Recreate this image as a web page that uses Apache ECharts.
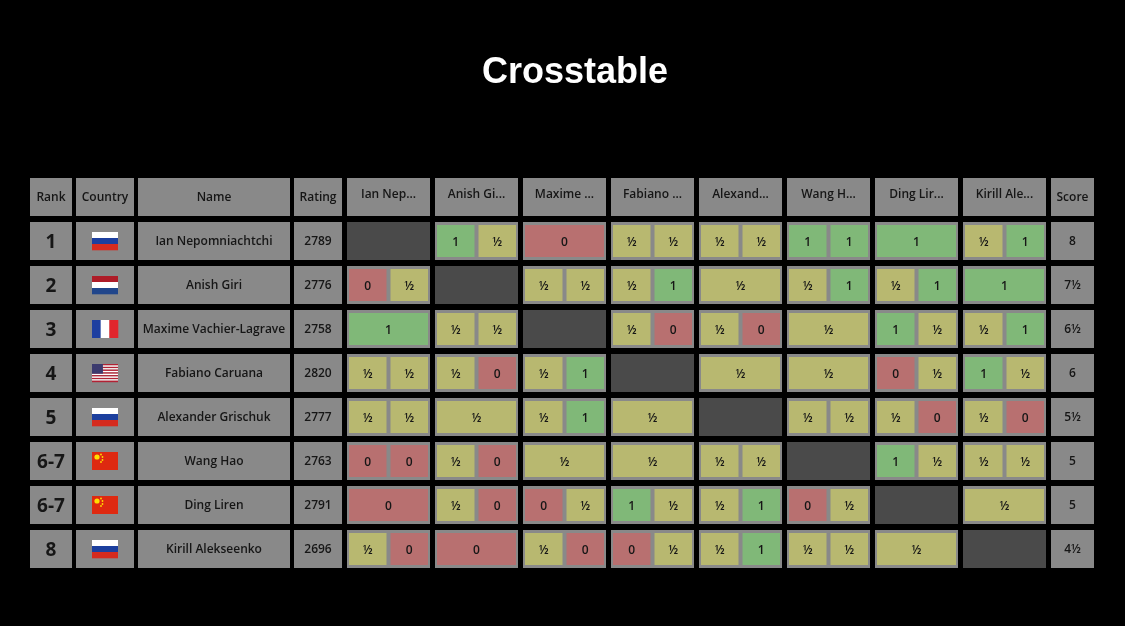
<!DOCTYPE html>
<html><head><meta charset="utf-8">
<script src="https://cdn.jsdelivr.net/npm/echarts@6/dist/echarts.min.js"></script>
<style>html,body{margin:0;background:#000}#c{width:1125px;height:626px}</style>
</head><body><div id="c"></div>
<script>
var ranks = ['1','2','3','4','5','6-7','6-7','8'];
var countries = ['RU','NL','FR','US','RU','CN','CN','RU'];
var names = ['Ian Nepomniachtchi','Anish Giri','Maxime Vachier-Lagrave','Fabiano Caruana','Alexander Grischuk','Wang Hao','Ding Liren','Kirill Alekseenko'];
var ratings = [2789,2776,2758,2820,2777,2763,2791,2696];
var shortNames = ['Ian Nep...','Anish Gi...','Maxime ...','Fabiano ...','Alexand...','Wang H...','Ding Lir...','Kirill Ale...'];
var scores = ['8','7½','6½','6','5½','5','5','4½'];
var headers = ['Rank','Country','Name','Rating'];
// results[row][col]: list of game results (one entry = merged)
var results = [
 [null,['1','½'],['0'],['½','½'],['½','½'],['1','1'],['1'],['½','1']],
 [['0','½'],null,['½','½'],['½','1'],['½'],['½','1'],['½','1'],['1']],
 [['1'],['½','½'],null,['½','0'],['½','0'],['½'],['1','½'],['½','1']],
 [['½','½'],['½','0'],['½','1'],null,['½'],['½'],['0','½'],['1','½']],
 [['½','½'],['½'],['½','1'],['½'],null,['½','½'],['½','0'],['½','0']],
 [['0','0'],['½','0'],['½'],['½'],['½','½'],null,['1','½'],['½','½']],
 [['0'],['½','0'],['0','½'],['1','½'],['½','1'],['0','½'],null,['½']],
 [['½','0'],['0'],['½','0'],['0','½'],['½','1'],['½','½'],['½'],null]
];

var FONT='"Open Sans", sans-serif', TXT='#161616', BG='#898989', DIAG='#4a4a4a';
var COL={'1':'#80b878','½':'#b8b870','0':'#b87070'};
var cols=[[0,42],[46,104],[108,260],[264,312]];
for(var j=0;j<8;j++) cols.push([317+88*j,400+88*j]);
cols.push([1021,1064]);

function txt(x,y,s,size,w){return {type:'text',style:{x:x,y:y,text:s,fill:TXT,font:(w||600)+' '+size+'px '+FONT,align:'center',verticalAlign:'middle'}};}
function rect(x,y,w,h,c){return {type:'rect',shape:{x:x,y:y,width:w,height:h},style:{fill:c}};}
function flag(code,cx,cy){
  var w=26,h=18,x=cx-w/2,y=cy-h/2,g=[];
  if(code==='RU'||code==='NL'){
    var c=code==='RU'?['#ffffff','#1c3f9e','#d52b1e']:['#ae1c28','#ffffff','#21468b'];
    for(var i=0;i<3;i++) g.push(rect(x,y+i*h/3,w,h/3+0.3,c[i]));
  } else if(code==='FR'){
    var c2=['#1e3fa0','#ffffff','#e1262d'];
    for(var i2=0;i2<3;i2++) g.push(rect(x+i2*w/3,y,w/3+0.3,h,c2[i2]));
  } else if(code==='US'){
    for(var k=0;k<13;k++) g.push(rect(x,y+k*h/13,w,h/13+0.2,k%2?'#ffffff':'#b22234'));
    g.push(rect(x,y,w*0.42,h*7/13,'#3c3b6e'));
  } else if(code==='CN'){
    g.push(rect(x,y,w,h,'#de2910'));
    g.push({type:'circle',shape:{cx:x+5,cy:y+5,r:2.6},style:{fill:'#ffde00'}});
    [[9,2.5],[10.5,5],[10.5,8],[9,10]].forEach(function(p){g.push({type:'circle',shape:{cx:x+p[0],cy:y+p[1],r:0.9},style:{fill:'#ffde00'}});});
  }
  return g;
}

var chart=echarts.init(document.getElementById('c'));
chart.setOption({
  backgroundColor:'#000',
  animation:false,
  title:{text:'Crosstable',left:570,top:50,textAlign:'center',textStyle:{color:'#fff',fontSize:36,fontWeight:'bold',fontFamily:'Liberation Sans, Arial, sans-serif'}},
  grid:{left:30,right:31,top:178,bottom:58},
  xAxis:{type:'value',min:0,max:1064,show:false},
  yAxis:{type:'value',min:0,max:390,inverse:true,show:false},
  series:[{
    type:'custom',
    data:[0,1,2,3,4,5,6,7,8].map(function(i){return [0,i];}),
    renderItem:function(params,api){
      var r=api.value(1);
      var top=r===0?0:44*r, h=38;
      var y0=api.coord([0,top])[1], y1=api.coord([0,top+h])[1], cy=(y0+y1)/2;
      var ch=[];
      cols.forEach(function(c,ci){
        var x0=api.coord([c[0],0])[0], x1=api.coord([c[1],0])[0], cx=(x0+x1)/2, w=x1-x0;
        if(r===0){
          ch.push(rect(x0,y0,w,y1-y0,BG));
          var lab=ci<4?headers[ci]:(ci<12?shortNames[ci-4]:'Score');
          ch.push(txt(cx,ci>=4&&ci<12?cy-2:cy+1,lab,12));
          return;
        }
        var p=r-1;
        if(ci>=4&&ci<12&&ci-4===p){ch.push(rect(x0,y0,w,y1-y0,DIAG));return;}
        ch.push(rect(x0,y0,w,y1-y0,BG));
        if(ci===0) ch.push(txt(cx,cy+2,ranks[p],19,700));
        else if(ci===1) ch=ch.concat(flag(countries[p],cx,cy));
        else if(ci===2) ch.push(txt(cx,cy+1,names[p],12));
        else if(ci===3) ch.push(txt(cx,cy+1,String(ratings[p]),12));
        else if(ci===12) ch.push(txt(cx,cy+1,scores[p],12));
        else {
          var res=results[p][ci-4];
          var ix=x0+2,iw=w-4,iy=y0+3,ih=y1-y0-6;
          if(res.length===1){ch.push(rect(ix,iy,iw,ih,COL[res[0]]));ch.push(txt(ix+iw/2,cy+2,res[0],12));}
          else{
            var bw=(iw-4)/2;
            for(var g=0;g<2;g++){var bx=ix+g*(bw+4);ch.push(rect(bx,iy,bw,ih,COL[res[g]]));ch.push(txt(bx+bw/2,cy+2,res[g],12));}
          }
        }
      });
      return {type:'group',children:ch};
    }
  }]
});
</script></body></html>
